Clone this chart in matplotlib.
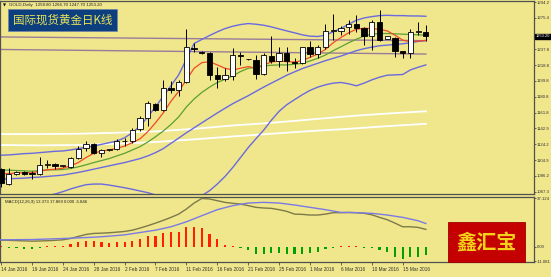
import matplotlib
matplotlib.use('Agg')
import matplotlib.pyplot as plt
import matplotlib.transforms as mtransforms
from matplotlib.patches import Rectangle

# ---------------- data ----------------
opens = [1094.2, 1076.4, 1088.7, 1090.3, 1089.1, 1088.3, 1099.8, 1100.6, 1098.2, 1097.4,
         1108.1, 1119.2, 1124.7, 1114.0, 1117.2, 1118.0, 1127.6, 1127.9, 1142.0, 1155.6,
         1172.6, 1165.5, 1190.8, 1189.3, 1198.0, 1239.5, 1234.8, 1233.6, 1207.5, 1201.9,
         1205.9, 1230.8, 1225.7, 1224.9, 1208.3, 1229.6, 1224.1, 1232.8, 1222.9, 1221.7,
         1239.9, 1231.6, 1240.7, 1259.4, 1259.4, 1264.5, 1267.7, 1262.9, 1253.4, 1270.4,
         1250.6, 1251.8, 1235.6, 1232.8, 1258.6, 1258.8]
highs = [1096.2, 1096.2, 1092.2, 1092.2, 1092.2, 1109.3, 1105.3, 1102.1, 1099.0, 1109.3,
         1121.9, 1127.9, 1125.1, 1118.0, 1118.0, 1129.9, 1131.8, 1143.7, 1157.6, 1175.4,
         1173.4, 1201.1, 1199.2, 1200.4, 1262.5, 1245.5, 1235.6, 1234.8, 1217.0, 1215.0,
         1239.5, 1234.8, 1226.5, 1230.8, 1232.8, 1253.4, 1240.7, 1240.7, 1226.9, 1240.7,
         1247.9, 1242.7, 1268.5, 1279.6, 1265.3, 1272.4, 1278.4, 1264.5, 1272.4, 1284.3,
         1254.2, 1252.6, 1236.0, 1262.5, 1270.4, 1266.7]
lows = [1072.4, 1075.2, 1087.1, 1087.5, 1082.3, 1087.1, 1096.2, 1095.0, 1097.0, 1096.2,
        1106.9, 1116.0, 1112.0, 1109.3, 1116.0, 1116.8, 1121.9, 1125.9, 1139.8, 1145.7,
        1163.5, 1163.5, 1185.3, 1181.4, 1197.2, 1234.8, 1232.0, 1201.1, 1191.2, 1200.0,
        1201.1, 1219.0, 1224.5, 1201.9, 1207.1, 1220.9, 1217.0, 1211.8, 1215.0, 1220.2,
        1228.9, 1226.9, 1237.6, 1249.4, 1254.6, 1256.6, 1258.6, 1242.7, 1236.8, 1247.9,
        1249.8, 1228.9, 1226.9, 1226.9, 1254.6, 1247.7]
closes = [1077.6, 1088.3, 1090.3, 1088.7, 1087.9, 1099.4, 1100.2, 1098.2, 1098.3, 1108.1,
          1118.8, 1124.7, 1114.0, 1117.2, 1117.3, 1127.9, 1127.9, 1141.0, 1155.6, 1173.4,
          1164.7, 1191.2, 1189.3, 1198.4, 1239.9, 1237.9, 1233.2, 1207.1, 1202.3, 1206.7,
          1230.8, 1229.3, 1225.8, 1208.3, 1230.8, 1223.3, 1232.8, 1224.1, 1221.4, 1239.9,
          1231.6, 1240.7, 1259.7, 1260.5, 1263.7, 1267.7, 1262.9, 1253.4, 1270.4, 1249.4,
          1253.4, 1235.6, 1232.8, 1258.6, 1258.7, 1253.2]

ma_fast = [1088.3, 1089.1, 1089.5, 1089.9, 1089.9, 1091.8, 1093.4, 1094.2, 1095.4, 1098.2,
           1102.1, 1108.1, 1113.2, 1116.0, 1117.2, 1119.2, 1121.9, 1125.9, 1130.6, 1139.0,
           1149.7, 1161.5, 1175.4, 1187.3, 1201.1, 1215.0, 1221.7, 1222.9, 1219.0, 1215.0,
           1213.0, 1215.0, 1217.0, 1215.0, 1219.0, 1222.5, 1223.7, 1222.9, 1222.5, 1224.1,
           1228.1, 1232.0, 1237.6, 1245.5, 1251.8, 1257.4, 1261.7, 1262.9, 1262.5, 1261.7,
           1259.7, 1254.6, 1248.7, 1246.7, 1247.5, 1248.3]
ma_slow = [1093.4, 1093.0, 1092.6, 1092.2, 1091.8, 1092.6, 1093.4, 1093.4, 1093.8, 1095.0,
           1097.0, 1099.4, 1102.1, 1104.5, 1106.9, 1110.1, 1113.2, 1117.2, 1121.2, 1126.7,
           1133.0, 1139.8, 1147.7, 1156.8, 1168.7, 1178.2, 1186.1, 1192.4, 1198.0, 1201.9,
           1205.9, 1211.0, 1215.0, 1216.2, 1217.8, 1218.6, 1219.0, 1219.0, 1219.8, 1220.9,
           1223.7, 1226.9, 1230.8, 1236.0, 1240.7, 1245.5, 1249.8, 1253.4, 1255.8, 1256.6,
           1256.6, 1256.2, 1255.8, 1255.4, 1255.0, 1254.6]
bb_upper = [1110.9, 1111.3, 1112.0, 1112.8, 1113.2, 1114.0, 1114.8, 1115.6, 1116.0, 1117.2,
            1118.8, 1120.4, 1121.9, 1123.9, 1125.9, 1127.9, 1131.8, 1137.8, 1145.7, 1156.8,
            1168.7, 1181.4, 1194.0, 1207.1, 1225.7, 1244.7, 1249.5, 1254.2, 1258.6, 1262.5,
            1265.3, 1267.3, 1268.5, 1267.7, 1266.5, 1264.5, 1262.1, 1259.7, 1257.4, 1255.0,
            1253.4, 1253.0, 1254.6, 1258.6, 1262.5, 1267.7, 1272.4, 1275.2, 1276.8, 1278.0,
            1278.4, 1278.0, 1278.0, 1277.6, 1277.6, 1277.2]
bb_mid = [1082.3, 1082.7, 1083.1, 1083.5, 1084.3, 1084.7, 1085.5, 1086.3, 1087.1, 1088.7,
          1090.3, 1092.2, 1094.2, 1096.2, 1098.2, 1100.2, 1102.1, 1104.5, 1106.9, 1110.1,
          1114.0, 1118.8, 1125.1, 1131.4, 1137.8, 1143.7, 1149.7, 1155.6, 1161.5, 1167.1,
          1172.6, 1177.4, 1182.1, 1187.3, 1192.4, 1197.2, 1201.9, 1206.7, 1210.7, 1214.6,
          1217.8, 1220.9, 1224.1, 1226.9, 1229.6, 1232.8, 1236.0, 1238.4, 1240.3, 1241.9,
          1242.7, 1243.5, 1244.3, 1245.5, 1247.1, 1248.3]
bb_lower = [1050.7, 1052.6, 1054.6, 1056.6, 1058.6, 1060.6, 1062.5, 1064.5, 1067.3, 1070.5,
            1073.2, 1075.6, 1076.4, 1076.4, 1075.2, 1073.6, 1072.0, 1070.1, 1068.1, 1066.1,
            1063.3, 1060.6, 1058.6, 1056.6, 1054.6, 1058.6, 1062.5, 1068.5, 1076.4, 1085.5,
            1096.2, 1108.1, 1120.0, 1130.6, 1140.9, 1152.8, 1163.5, 1171.4, 1177.4, 1183.3,
            1188.5, 1192.4, 1195.2, 1197.2, 1198.0, 1196.4, 1194.0, 1197.2, 1201.1, 1204.3,
            1206.7, 1207.1, 1207.5, 1213.0, 1216.2, 1219.0]
long_ma_bars = [0, 5, 10, 15, 20, 25, 30, 35, 40, 45, 50, 55]
long_ma_a = [1136.2, 1136.2, 1136.6, 1137.8, 1139.4, 1142.5, 1146.5, 1149.7, 1153.6, 1157.6, 1160.8, 1163.5]
long_ma_b = [1123.1, 1122.7, 1123.1, 1124.7, 1126.7, 1129.9, 1133.4, 1136.6, 1139.8, 1142.5, 1145.7, 1148.5]
trend_bars = [-0.2, 55]
trend_upper = [1252.5, 1248.0]
trend_lower = [1237.5, 1232.0]

macd_main = [5.1, 5.0, 4.8, 4.6, 4.4, 4.5, 4.7, 5.0, 5.4, 6.4,
             8.0, 9.5, 10.3, 10.5, 10.8, 11.3, 11.8, 12.8, 14.4, 16.2,
             18.2, 20.3, 22.6, 25.1, 29.0, 33.6, 37.1, 36.7, 35.4, 34.1,
             33.4, 32.8, 31.6, 30.3, 29.8, 29.5, 28.5, 27.2, 25.1, 24.9,
             24.4, 24.4, 25.1, 26.2, 26.2, 26.4, 26.2, 25.7, 24.6, 22.6,
             20.8, 18.2, 15.4, 15.4, 14.9, 13.4]
signal_bars = [0, 4, 8, 10, 12, 14, 16, 18, 20, 22, 24, 26, 28, 30, 32, 34, 36, 38, 40,
               42, 44, 46, 48, 50, 52, 54, 55]
macd_signal = [5.4, 5.6, 6.4, 6.9, 7.4, 8.2, 9.2, 11.0, 12.8, 15.4, 19.2, 23.9, 28.5,
               31.6, 33.6, 34.1, 33.6, 32.1, 30.3, 28.5, 26.4, 26.2, 25.7, 24.4, 22.6,
               20.0, 17.9]
macd_hist = [1.0, -1.0, -1.0, -1.8, -1.8, -1.0, 0.5, 0.5, 0.8, 2.0,
             3.8, 4.6, 4.6, 4.0, 3.3, 3.6, 4.0, 4.6, 5.8, 8.4,
             8.4, 10.9, 11.4, 11.4, 15.2, 15.5, 14.7, 10.2, 5.8, 1.5,
             0.8, -0.8, -2.3, -5.1, -5.1, -4.8, -4.8, -5.3, -5.8, -5.3,
             -4.8, -4.1, -1.8, -0.8, 0.8, 1.0, 0.8, -0.5, -0.8, -2.5,
             -4.3, -8.1, -9.4, -7.4, -7.4, -6.4]

price_ticks = [1294.2, 1275.4, 1256.5, 1237.8, 1218.8, 1199.8, 1180.8, 1161.8,
               1142.9, 1124.2, 1104.9, 1086.2, 1067.3]
macd_ticks = [37.124, 0.0, -11.081]
macd_tick_labels = ['37.124', '0.00', '-11.081']
date_bars = [0, 4, 8, 12, 16, 20, 24, 28, 32, 36, 40, 44, 48, 52]
date_labels = ['14 Jan 2016', '19 Jan 2016', '24 Jan 2016', '28 Jan 2016', '2 Feb 2016',
               '7 Feb 2016', '11 Feb 2016', '16 Feb 2016', '21 Feb 2016', '25 Feb 2016',
               '1 Mar 2016', '6 Mar 2016', '10 Mar 2016', '15 Mar 2016']
header = 'GOLD,Daily  1258.80 1266.70 1247.70 1253.20'
macd_header = 'MACD(12,26,9) 13.373 17.869 0.000 -5.846'
last_price = 1253.20
title_cn = '国际现货黄金日K线'
logo_cn = '鑫汇宝'

# ---------------- style ----------------
plt.rcParams['font.family'] = ['Liberation Sans', 'DejaVu Sans']
BG = '#f0e68c'
AX = '#505050'
TXT = '#303030'
W, H = 551, 277
fig = plt.figure(figsize=(W / 100, H / 100), dpi=100)
fig.patch.set_facecolor(BG)

def px_rect(x0, y0, x1, y1):
    return [x0 / W, 1 - y1 / H, (x1 - x0) / W, (y1 - y0) / H]

ax = fig.add_axes(px_rect(0, 1, 534, 194))
axm = fig.add_axes(px_rect(0, 196.5, 534, 262), sharex=ax)
n = len(closes)
bars = list(range(n))

for a in (ax, axm):
    a.set_facecolor(BG)
    for s in a.spines.values():
        s.set_color(AX)
        s.set_linewidth(0.9)
    a.yaxis.tick_right()
    a.tick_params(axis='y', direction='out', length=1.5, width=0.6, colors=AX,
                  labelsize=3.1, pad=0.6, labelcolor=TXT)

ax.set_xlim(-0.13, 69.0)
ax.set_ylim(1064.5, 1295.5)
axm.set_ylim(-11.6, 38.6)

# long moving averages & trendlines
ax.plot(long_ma_bars, long_ma_a, color='white', lw=1.3, zorder=1)
ax.plot(long_ma_bars, long_ma_b, color='white', lw=1.3, zorder=1)
ax.plot(trend_bars, trend_upper, color='#9a7c9a', lw=1.0, zorder=1)
ax.plot(trend_bars, trend_lower, color='#9a7c9a', lw=1.0, zorder=1)
# bands
for band in (bb_upper, bb_mid, bb_lower):
    ax.plot(bars, band, color='#6a6ae0', lw=1.0, zorder=2)
ax.plot(bars, ma_slow, color='#5aa032', lw=0.9, zorder=3)
ax.plot(bars, ma_fast, color='#f04a28', lw=0.9, zorder=3)

# candles
bw = 0.68
for i in bars:
    o, h, l, c = opens[i], highs[i], lows[i], closes[i]
    ax.vlines(i, l, h, color='black', lw=0.7, zorder=4)
    up = c >= o
    bottom = min(o, c)
    height = max(abs(c - o), 0.7)
    ax.bar(i, height, bottom=bottom, width=bw, color='white' if up else 'black',
           edgecolor='black', linewidth=0.6, zorder=5)

# the 1256.5 label sits under the current-price marker in the reference
ax.set_yticks(price_ticks)
ax.set_yticklabels(['' if abs(v - last_price) < 5 else '%.1f' % v for v in price_ticks])
ax.tick_params(axis='x', bottom=False, labelbottom=False)

# current price marker
trans = mtransforms.blended_transform_factory(ax.transAxes, ax.transData)
ax.text(1.003, last_price, '%.2f' % last_price, transform=trans, fontsize=2.9,
        color='white', va='center', ha='left',
        bbox=dict(boxstyle='square,pad=0.2', fc='black', ec='black'), zorder=10,
        clip_on=False)

# header texts
ax.text(0.005, 0.988, '\u25bc', transform=ax.transAxes, fontsize=2.8, color='black',
        va='top', ha='left', family='DejaVu Sans')
ax.text(0.017, 0.99, header, transform=ax.transAxes, fontsize=3.2, color='#202020',
        va='top', ha='left')

# Chinese title box
fig.patches.append(Rectangle((8 / W, 1 - 31 / H), 109 / W, 22 / H, transform=fig.transFigure,
                             facecolor='#0d3f7e', edgecolor='#6f86a8', lw=0.6, zorder=20))
fig.text(62.5 / W, 1 - 20 / H, title_cn, fontsize=8.3, color='#e8e45a', ha='center',
         va='center', family=['Noto Sans CJK SC', 'DejaVu Sans'], zorder=21)

# MACD panel
hist_colors = ['#ff2000' if v > 0 else '#00a000' for v in macd_hist]
axm.bar(bars, macd_hist, width=0.28, color=hist_colors, zorder=2)
axm.plot(bars, macd_main, color='#7c7a48', lw=1.0, zorder=3)
axm.plot(signal_bars, macd_signal, color='#7a7ae6', lw=1.0, zorder=3)
axm.set_yticks(macd_ticks)
axm.set_yticklabels(macd_tick_labels)
axm.text(0.01, 0.95, macd_header, transform=axm.transAxes, fontsize=3.1, color='#202020',
         va='top', ha='left')

axm.set_xticks(date_bars)
axm.set_xticklabels(date_labels, ha='left')
axm.tick_params(axis='x', direction='out', length=2.0, width=0.6, colors=AX,
                labelsize=3.4, pad=1.5, labelcolor=TXT)

# logo box
fig.patches.append(Rectangle((448 / W, 1 - 262 / H), 77 / W, 40 / H, transform=fig.transFigure,
                             facecolor='#c40000', edgecolor='#a00000', lw=0.6, zorder=20))
fig.text(486.5 / W, 1 - 242.5 / H, logo_cn, fontsize=14.5, color='#f4d21a', ha='center',
         va='center', weight='bold', family=['Noto Sans CJK SC', 'DejaVu Sans'], zorder=21)

fig.savefig('out.png', dpi=100, facecolor=BG)
